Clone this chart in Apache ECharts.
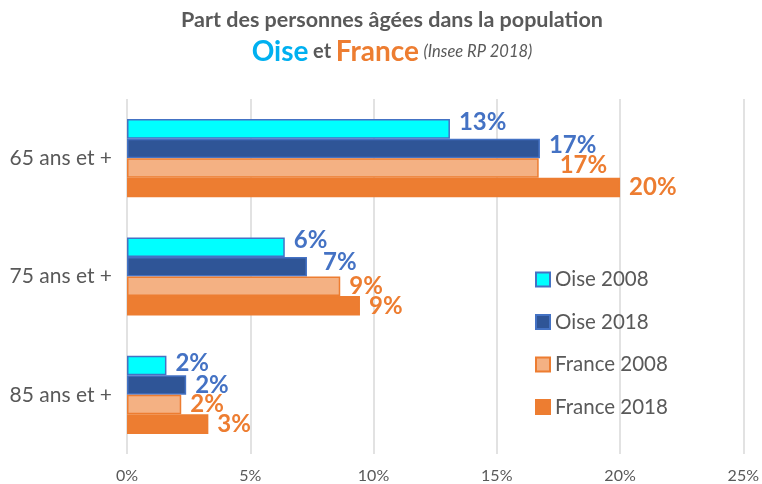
<!DOCTYPE html>
<html><head><meta charset="utf-8">
<script src="https://cdn.jsdelivr.net/npm/echarts@6/dist/echarts.min.js"></script>
<style>html,body{margin:0;padding:0;background:#fff}#c{width:762px;height:484px}</style>
</head><body><div id="c"></div>
<script>
const categories = ['65 ans et +', '75 ans et +', '85 ans et +'];
const seriesNames = ['Oise 2008', 'Oise 2018', 'France 2008', 'France 2018'];
const oise2008 = [13.1, 6.4, 1.6];
const oise2018 = [16.75, 7.3, 2.4];
const france2008 = [16.7, 8.65, 2.2];
const france2018 = [20.0, 9.45, 3.3];
const xTicks = [0, 5, 10, 15, 20, 25];

const FONT = 'Lato';
const fills = ['#00FFFF', '#2F5597', '#F4B183', '#ED7D31'];
const borders = ['#4472C4', '#4472C4', '#ED7D31', '#ED7D31'];
const labelColors = ['#4472C4', '#4472C4', '#ED7D31', '#ED7D31'];
const values = [oise2008, oise2018, france2008, france2018];
// label placement tweaks (styling only), per series then per category
const labelShift = [
  [[0, -7], [0, -7], [0, -2]],
  [[0, -3], [7, -4], [0, 0]],
  [[12, -3], [0, 0], [0, 0]],
  [[0, 0], [0, 0], [0, 0]]
];

const chart = echarts.init(document.getElementById('c'));
chart.setOption({
  animation: false,
  textStyle: { fontFamily: FONT },
  title: [
    { text: 'Part des personnes âgées dans la population', left: 387, textAlign: 'center', top: 4,
      textStyle: { fontFamily: FONT, fontSize: 21.5, fontWeight: 'bold', color: '#595959' } },
    { text: '{o|Oise} {e|et} {f|France} {i|(Insee RP 2018)}', left: 387, textAlign: 'center', top: 33,
      textStyle: { fontWeight: 'normal', rich: {
        o: { fontFamily: FONT, fontSize: 28, fontWeight: 'bold', color: '#00B0F0' },
        e: { fontFamily: FONT, fontSize: 20, fontWeight: 'bold', color: '#595959' },
        f: { fontFamily: FONT, fontSize: 28, fontWeight: 'bold', color: '#ED7D31' },
        i: { fontFamily: FONT, fontSize: 16.5, fontStyle: 'italic', fontWeight: 'normal', color: '#595959' }
      } } }
  ],
  legend: {
    orient: 'vertical', left: 535, top: 269, itemGap: 21.5, padding: 0,
    itemWidth: 14, itemHeight: 14, icon: 'rect',
    data: seriesNames,
    textStyle: { fontFamily: FONT, fontSize: 20.5, color: '#595959' }
  },
  grid: { left: 127, right: 14, top: 99, bottom: 30, containLabel: false },
  xAxis: {
    type: 'value', min: 0, max: 25, interval: 5,
    axisLine: { show: false }, axisTick: { show: false },
    splitLine: { lineStyle: { color: '#D9D9D9', width: 1.5 } },
    axisLabel: { formatter: v => xTicks.includes(v) ? v + '%' : '', color: '#595959', fontSize: 16, fontFamily: FONT, margin: 14 }
  },
  yAxis: {
    type: 'category', data: categories, inverse: true,
    axisLine: { show: false }, axisTick: { show: false },
    axisLabel: { color: '#595959', fontSize: 21, fontFamily: FONT, margin: 15 }
  },
  series: seriesNames.map((n, i) => ({
    name: n, type: 'bar',
    data: values[i].map((v, j) => ({ value: v, label: { offset: labelShift[i][j] } })),
    barGap: '0%', barCategoryGap: '34%',
    itemStyle: { color: fills[i], borderColor: borders[i], borderWidth: 1.5 },
    label: { show: true, position: 'right', distance: 9,
      formatter: p => Math.round(p.value) + '%',
      color: labelColors[i], fontSize: 24, fontWeight: 'bold', fontFamily: FONT }
  }))
});
</script></body></html>
